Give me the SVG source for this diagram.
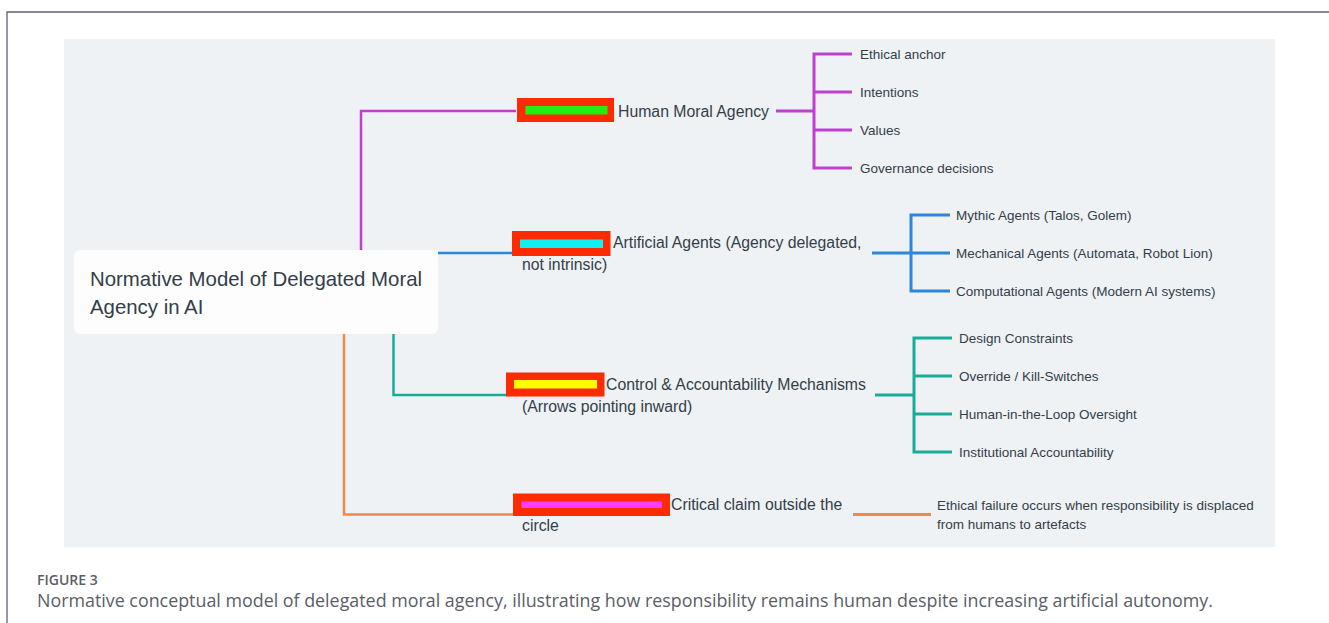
<svg xmlns="http://www.w3.org/2000/svg" width="1329" height="623" viewBox="0 0 1329 623">
<style>
  .t { font-family: "Liberation Sans", Arial, sans-serif; fill: #343e49; }
  .main { font-size: 15.8px; }
  .sub { font-size: 13.5px; }
  .root { font-size: 20.4px; }
  .red { fill: #ff2b00; }
  .c { fill: none; stroke-linecap: butt; stroke-linejoin: miter; }
  .pu { stroke: #bf3fd3; }
  .bl { stroke: #2e86d9; }
  .te { stroke: #1aab98; }
  .or { stroke: #ec8a48; }
  .w2 { stroke-width: 2.5; }
  .w3 { stroke-width: 3; }
  .cap { font-family: "Open Sans", "Liberation Sans", sans-serif; fill: #5a5e66; }
</style>
<rect x="0" y="0" width="1329" height="623" fill="#ffffff"/>
<path d="M7 623 V12 H1329" fill="none" stroke="#5f6272" stroke-width="1.3"/>
<rect x="64" y="39" width="1211" height="508" fill="#eef2f5"/>

<g id="connectors">
  <path class="c pu w2" d="M361 250 V111 H516"/>
  <path class="c bl w2" d="M438 253 H513"/>
  <path class="c te w2" d="M393.5 334 V395 H507"/>
  <path class="c or w2" d="M344 334 V514.5 H514"/>

  <path class="c pu w3" d="M776 111 H814 M852 54 H814 V168 H852 M814 92 H852 M814 130 H852"/>
  <path class="c bl w3" d="M872 253 H911 M950 215 H911 V291 H950 M911 253 H950"/>
  <path class="c te w3" d="M875 395 H914 M952 338 H914 V452 H952 M914 376 H952 M914 414 H952"/>
  <path class="c or w3" d="M853 514.5 H931"/>
</g>

<g id="root">
  <rect x="74" y="250" width="364" height="84" rx="6" fill="#fdfdfe"/>
  <text class="t root" x="90" y="286">Normative Model of Delegated Moral</text>
  <text class="t root" x="90" y="314">Agency in AI</text>
</g>

<g id="human">
  <rect class="red" x="517" y="98" width="97" height="24"/>
  <rect x="525.5" y="106" width="82" height="8.5" fill="#22ee11"/>
  <text class="t main" x="618" y="117">Human Moral Agency</text>
</g>
<g id="h1"><text class="t sub" x="860" y="59">Ethical anchor</text></g>
<g id="h2"><text class="t sub" x="860" y="97">Intentions</text></g>
<g id="h3"><text class="t sub" x="860" y="135">Values</text></g>
<g id="h4"><text class="t sub" x="860" y="173">Governance decisions</text></g>

<g id="artificial">
  <rect class="red" x="512" y="231" width="98.5" height="25"/>
  <rect x="520" y="239.5" width="83" height="8.5" fill="#11f0f0"/>
  <text class="t main" x="613" y="248">Artificial Agents (Agency delegated,</text>
  <text class="t main" x="522" y="270">not intrinsic)</text>
</g>
<g id="a1"><text class="t sub" x="956" y="220">Mythic Agents (Talos, Golem)</text></g>
<g id="a2"><text class="t sub" x="956" y="258">Mechanical Agents (Automata, Robot Lion)</text></g>
<g id="a3"><text class="t sub" x="956" y="296">Computational Agents (Modern AI systems)</text></g>

<g id="control">
  <rect class="red" x="506" y="372.5" width="98.5" height="24"/>
  <rect x="514" y="380" width="83" height="8.5" fill="#ffff00"/>
  <text class="t main" x="606" y="390">Control &amp; Accountability Mechanisms</text>
  <text class="t main" x="522" y="412">(Arrows pointing inward)</text>
</g>
<g id="c1"><text class="t sub" x="959" y="343">Design Constraints</text></g>
<g id="c2"><text class="t sub" x="959" y="381">Override / Kill-Switches</text></g>
<g id="c3"><text class="t sub" x="959" y="419">Human-in-the-Loop Oversight</text></g>
<g id="c4"><text class="t sub" x="959" y="457">Institutional Accountability</text></g>

<g id="critical">
  <rect class="red" x="513" y="493.5" width="157" height="22.5"/>
  <rect x="521.5" y="501.5" width="140.5" height="6.5" fill="#ff3cff"/>
  <text class="t main" x="671" y="510">Critical claim outside the</text>
  <text class="t main" x="522" y="531">circle</text>
</g>
<g id="failure">
  <text class="t sub" x="937" y="510">Ethical failure occurs when responsibility is displaced</text>
  <text class="t sub" x="937" y="529">from humans to artefacts</text>
</g>

<g id="caption">
  <text class="cap" x="37" y="585" font-size="14" font-weight="600">FIGURE 3</text>
  <text class="cap" x="37" y="607" font-size="18" fill="#666a70" textLength="1176" lengthAdjust="spacingAndGlyphs">Normative conceptual model of delegated moral agency, illustrating how responsibility remains human despite increasing artificial autonomy.</text>
</g>
</svg>
